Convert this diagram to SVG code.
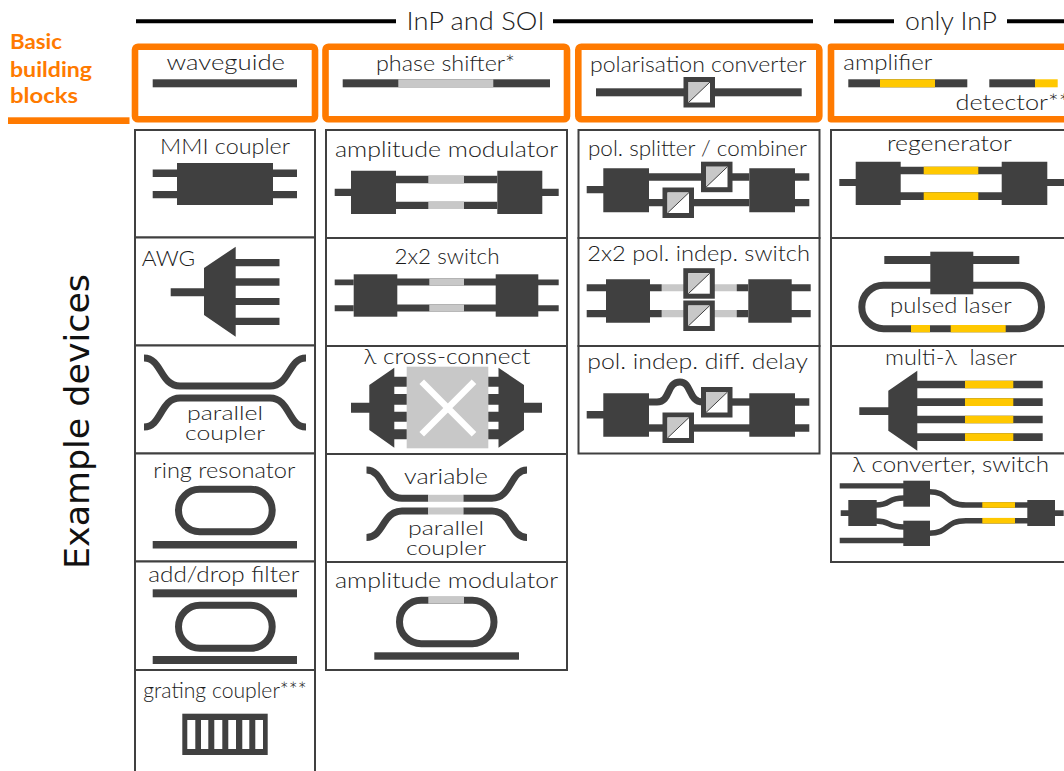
<svg xmlns="http://www.w3.org/2000/svg" width="1064" height="771" viewBox="0 0 1064 771">
<style>
text{font-family:"Lato","Liberation Sans",sans-serif;font-size:22px;font-weight:300;fill:#1c1c1c}
text.s{font-size:19px}
.d{fill:#404040}.g{fill:#c8c8c8}.y{fill:#ffc800}.wt{fill:#fff}
.w{fill:none;stroke:#404040;stroke-width:7}
.c{fill:#fff;stroke:#404040;stroke-width:2}
.o{fill:none;stroke:#ff7a00;stroke-width:6.6;stroke-linejoin:round}
.h{stroke:#000;stroke-width:4}
text.b{font-weight:700;fill:#ff7a00;font-size:20px}
</style>
<defs>
<g id="pc"><rect width="31.5" height="30.5" class="d"/><rect x="5" y="5" width="21.5" height="20.5" class="wt"/><path d="M5 5H26.5L5 25.5Z" class="g"/><path d="M5 25.5L26.5 5" stroke="#404040" stroke-width="1"/></g>
</defs>
<rect width="1064" height="771" fill="#fff"/>

<g id="headers">
<path class="h" d="M136 21.3H396M553 21.3H813M834 21.3H894M1007 21.3H1064"/>
<text x="406.5" y="30" textLength="138" lengthAdjust="spacingAndGlyphs" style="font-size:25px">InP and SOI</text>
<text x="905" y="30" textLength="92" lengthAdjust="spacingAndGlyphs" style="font-size:25px">only InP</text>
</g>

<g id="basic-label">
<text class="b" x="10" y="49" textLength="52" lengthAdjust="spacingAndGlyphs">Basic</text>
<text class="b" x="10" y="77" textLength="82" lengthAdjust="spacingAndGlyphs">building</text>
<text class="b" x="10" y="103" textLength="68" lengthAdjust="spacingAndGlyphs">blocks</text>
<rect x="8" y="117.3" width="121.5" height="6.7" fill="#ff7a00"/>
</g>

<g id="example-label">
<text transform="translate(89 569) rotate(-90)" textLength="295" lengthAdjust="spacingAndGlyphs" style="font-family:'DejaVu Sans',sans-serif;font-size:33px;font-weight:400;fill:#111">Example devices</text>
</g>

<g id="waveguide">
<rect class="o" x="135" y="46.7" width="180" height="72.6" rx="3"/>
<text x="166.5" y="70" textLength="118.5" lengthAdjust="spacingAndGlyphs">waveguide</text>
<rect class="d" x="152.7" y="79.3" width="144.3" height="8"/>
</g>
<g id="phase-shifter">
<rect class="o" x="325.5" y="46.7" width="241.5" height="72.6" rx="3"/>
<text x="376" y="71" textLength="139" lengthAdjust="spacingAndGlyphs">phase shifter*</text>
<rect class="d" x="342.7" y="79.3" width="207.3" height="8"/>
<rect class="g" x="398.3" y="79.3" width="95" height="8"/>
</g>
<g id="polarisation-converter">
<rect class="o" x="578.3" y="46.7" width="241" height="72.6" rx="3"/>
<text x="590" y="71.5" textLength="216.5" lengthAdjust="spacingAndGlyphs">polarisation converter</text>
<rect class="d" x="596" y="88.3" width="205.7" height="8"/>
<use href="#pc" x="683.5" y="77"/>
</g>
<g id="amplifier-detector">
<path class="o" d="M1064 46.7H831V119.3H1064"/>
<text x="843.3" y="70" textLength="89" lengthAdjust="spacingAndGlyphs">amplifier</text>
<rect class="d" x="848.3" y="79.3" width="119" height="8"/>
<rect class="y" x="880" y="79.3" width="55" height="8"/>
<rect class="d" x="989.3" y="79.3" width="46" height="8"/>
<rect class="y" x="1035" y="79.3" width="22.7" height="8"/>
<text x="955.5" y="110" textLength="114" lengthAdjust="spacingAndGlyphs">detector**</text>
</g>

<g id="mmi-coupler">
<rect class="c" x="135" y="130" width="180" height="107.5"/>
<text x="160" y="153.5" textLength="130" lengthAdjust="spacingAndGlyphs">MMI coupler</text>
<path class="d" d="M177 163H273V169.5H297V177H273V191H297V198.3H273V205H177V198.3H152.7V191H177V177H152.7V169.5H177Z"/>
</g>
<g id="awg">
<rect class="c" x="135" y="237.5" width="180" height="108"/>
<text x="141.7" y="266" textLength="53.5" lengthAdjust="spacingAndGlyphs">AWG</text>
<path class="d" d="M235.7 246.7L204 268V288.3H170.7V296.3H204V315L235.7 336.7Z"/>
<path class="d" d="M235 259H279.5V266.3H235ZM235 278.3H279.5V285.7H235ZM235 298H279.5V305H235ZM235 317.7H279.5V325H235Z"/>
</g>
<g id="parallel-coupler">
<rect class="c" x="135" y="345.5" width="180" height="108"/>
<path class="w" d="M144 358C162 358 160 386 180 386H270C290 386 288 358 306 358"/>
<path class="w" d="M144 427C162 427 160 398 180 398H270C290 398 288 427 306 427"/>
<text class="s"><tspan x="187" y="419.5" textLength="76" lengthAdjust="spacingAndGlyphs">parallel</tspan><tspan x="185" y="440" textLength="80" lengthAdjust="spacingAndGlyphs">coupler</tspan></text>
</g>
<g id="ring-resonator">
<rect class="c" x="135" y="453.5" width="180" height="108"/>
<text x="153.3" y="477.7" textLength="142" lengthAdjust="spacingAndGlyphs">ring resonator</text>
<rect class="w" x="178.5" y="489.2" width="93.7" height="42.5" rx="21.2"/>
<rect class="d" x="152.7" y="541" width="144.3" height="7.5"/>
</g>
<g id="add-drop-filter">
<rect class="c" x="135" y="561.5" width="180" height="108.5"/>
<text x="148.3" y="582.3" textLength="151" lengthAdjust="spacingAndGlyphs">add/drop filter</text>
<rect class="d" x="152.7" y="589.3" width="144.3" height="8"/>
<rect class="w" x="178.5" y="605.2" width="93.7" height="43" rx="21.5"/>
<rect class="d" x="152.7" y="656" width="144.3" height="8"/>
</g>
<g id="grating-coupler">
<rect class="c" x="135" y="670" width="180" height="110"/>
<text x="143.3" y="698.3" textLength="163.5" lengthAdjust="spacingAndGlyphs">grating coupler***</text>
<rect class="d" x="182.3" y="713.7" width="85.4" height="41.3"/>
<path class="wt" d="M187.3 720H195.3V749H187.3ZM201 720H208.3V749H201ZM214.3 720H222.3V749H214.3ZM228.3 720H236V749H228.3ZM242.3 720H249.3V749H242.3ZM255.3 720H263V749H255.3Z"/>
</g>

<g id="amplitude-modulator">
<rect class="c" x="326" y="130" width="241" height="108"/>
<text x="335" y="157" textLength="223" lengthAdjust="spacingAndGlyphs">amplitude modulator</text>
<path class="d" d="M351 170.7H396V214H351V196H334.7V188.7H351ZM497.3 170.7H542.3V188.7H558.7V196H542.3V214H497.3Z"/>
<path class="d" d="M396 175.8H497.3V183.3H396ZM396 201.7H497.3V209H396Z"/>
<rect class="g" x="428.3" y="175.8" width="35.7" height="7.5"/><rect class="g" x="428.3" y="201.7" width="35.7" height="7.3"/>
</g>
<g id="switch-2x2">
<rect class="c" x="326" y="238" width="241" height="108"/>
<text x="394.5" y="264" textLength="105" lengthAdjust="spacingAndGlyphs">2x2 switch</text>
<rect class="d" x="353.7" y="274.3" width="43.6" height="42.4"/><rect class="d" x="495.7" y="274.3" width="42.6" height="42.4"/>
<path class="d" d="M334.7 279.5H353.7V285.2H334.7ZM334.7 305.3H353.7V311.2H334.7ZM538 279.5H558.7V285.2H538ZM538 305.3H558.7V311.2H538Z"/>
<path class="d" d="M397 278.5H496V285.6H397ZM397 304.5H496V311.6H397Z"/>
<rect class="g" x="429.3" y="278.5" width="34.7" height="7.1"/><rect class="g" x="429.3" y="304.5" width="34.7" height="7.1"/>
</g>
<g id="cross-connect">
<rect class="c" x="326" y="346" width="241" height="108"/>
<text x="363.5" y="364" textLength="167" lengthAdjust="spacingAndGlyphs">λ cross-connect</text>
<rect class="g" x="406.7" y="366.7" width="81.6" height="81.6"/>
<path d="M421.7 381.7L474 434.3M474 381.7L421.7 434.3" stroke="#fff" stroke-width="6.5"/>
<path class="d" d="M394.3 367.7L369.3 385V402.7H351V412.7H369.3V430L394.3 447.7Z"/>
<path class="d" d="M394 376.7H406.7V386.7H394ZM394 394H406.7V404.7H394ZM394 411.7H406.7V421.7H394ZM394 429.3H406.7V439.3H394Z"/>
<path class="d" d="M498.5 367.7L524 385V402.7H542V412.7H524V430L498.5 447.7Z"/>
<path class="d" d="M488.3 376.7H499V386.7H488.3ZM488.3 394H499V404.7H488.3ZM488.3 411.7H499V421.7H488.3ZM488.3 429.3H499V439.3H488.3Z"/>
</g>
<g id="variable-coupler">
<rect class="c" x="326" y="454" width="241" height="108"/>
<path class="w" d="M366.5 470C384 470 382 498.3 402 498.3H428.3M463.3 498.3H492C512 498.3 510 470 527 470"/>
<path class="w" d="M366.5 537.5C384 537.5 382 511 402 511H428.3M463.3 511H492C512 511 510 537.5 527 537.5"/>
<rect class="g" x="428.3" y="494.8" width="35" height="7"/><rect class="g" x="428.3" y="507.5" width="35" height="7"/>
<text x="404" y="484" textLength="84" lengthAdjust="spacingAndGlyphs">variable</text>
<text class="s"><tspan x="408" y="534.5" textLength="76" lengthAdjust="spacingAndGlyphs">parallel</tspan><tspan x="406" y="555" textLength="80" lengthAdjust="spacingAndGlyphs">coupler</tspan></text>
</g>
<g id="ring-modulator">
<rect class="c" x="326" y="562" width="241" height="108"/>
<text x="335" y="587.7" textLength="223" lengthAdjust="spacingAndGlyphs">amplitude modulator</text>
<rect class="w" x="399.5" y="600.2" width="94.5" height="43.5" rx="21.7"/>
<rect class="g" x="428.3" y="596.7" width="35.7" height="7"/>
<rect class="d" x="374.3" y="652.3" width="144.7" height="7.4"/>
</g>

<g id="pol-splitter">
<rect class="c" x="578.5" y="130" width="241" height="108"/>
<text x="588" y="156" textLength="219" lengthAdjust="spacingAndGlyphs">pol. splitter / combiner</text>
<path class="d" d="M603.3 168.3H649V212.3H603.3V193.3H586.7V186H603.3ZM749.3 168.3H795V173.3H809.3V180.7H795V199H809.3V206.3H795V212.3H749.3Z"/>
<path class="d" d="M649 173.3H749.3V180.7H649ZM649 199H749.3V206.3H649Z"/>
<use href="#pc" x="701" y="161.7"/><use href="#pc" x="662.5" y="187.5"/>
</g>
<g id="pol-switch">
<rect class="c" x="578.5" y="238" width="241" height="108"/>
<text x="587.3" y="261" textLength="222.7" lengthAdjust="spacingAndGlyphs">2x2 pol. indep. switch</text>
<path class="d" d="M606 279.3H650V322.7H606V317.3H586.7V310H606V291.3H586.7V284.3H606ZM748.3 279.3H791.7V284.3H810.7V291.3H791.7V310H810.7V317.3H791.7V322.7H748.3Z"/>
<path class="g" d="M661.7 284.3H736.7V291.3H661.7ZM661.7 310H736.7V317.3H661.7Z"/>
<path class="d" d="M650 284.3H661.7V291.3H650ZM650 310H661.7V317.3H650ZM736.7 284.3H748.3V291.3H736.7ZM736.7 310H748.3V317.3H736.7Z"/>
<use href="#pc" x="683.3" y="268.2"/><use href="#pc" x="683.3" y="300.5"/>
</g>
<g id="pol-delay">
<rect class="c" x="578.5" y="346" width="241" height="107.5"/>
<text x="587.3" y="369.3" textLength="220.7" lengthAdjust="spacingAndGlyphs">pol. indep. diff. delay</text>
<path class="d" d="M603.3 393.3H649V436.7H603.3V418.5H586.7V411H603.3ZM749.3 393.3H795V398.3H809.3V405.7H795V424.3H809.3V431.7H795V436.7H749.3Z"/>
<path class="w" d="M649 402H657C671 402 666 382 680 382C692 382 688 402 703 402"/>
<rect class="d" x="732" y="398.3" width="18" height="7.4"/>
<rect class="d" x="649" y="424.3" width="101" height="7.4"/>
<use href="#pc" x="701" y="387"/><use href="#pc" x="662.5" y="412.5"/>
</g>

<g id="regenerator">
<rect class="c" x="831" y="130" width="240" height="108"/>
<text x="887" y="150.7" textLength="124.7" lengthAdjust="spacingAndGlyphs">regenerator</text>
<path class="d" d="M855.7 161.7H900.7V205H855.7V186H839.3V179H855.7ZM1001.7 161.7H1047.3V179H1064V186H1047.3V205H1001.7Z"/>
<path class="d" d="M900 166.7H1002V174.3H900ZM900 192.3H1002V200H900Z"/>
<rect class="y" x="923.7" y="166.7" width="54.6" height="7.6"/><rect class="y" x="923.7" y="192.3" width="54.6" height="7.7"/>
</g>
<g id="pulsed-laser">
<rect class="c" x="831" y="238" width="240" height="108"/>
<rect class="w" x="861.8" y="285.2" width="179.7" height="43.5" rx="21.7"/>
<rect class="d" x="884.3" y="256" width="135" height="8"/>
<rect class="d" x="930.3" y="251.7" width="43" height="42.6"/>
<rect class="y" x="911" y="325" width="19" height="7.3"/><rect class="y" x="950.7" y="325" width="55" height="7.3"/>
<text x="890" y="312.7" textLength="121.7" lengthAdjust="spacingAndGlyphs">pulsed laser</text>
</g>
<g id="multi-laser">
<rect class="c" x="831" y="346" width="240" height="107.5"/>
<text x="885" y="365" textLength="131.7" lengthAdjust="spacingAndGlyphs" xml:space="preserve">multi-λ  laser</text>
<path class="d" d="M917.3 370.7L888.3 390.7V407.3H859.3V415H888.3V430.7L917.3 450.7Z"/>
<path class="d" d="M917 380.7H1042.7V388.3H917ZM917 398.3H1042.7V406H917ZM917 415.7H1042.7V423.3H917ZM917 433.3H1042.7V441H917Z"/>
<path class="y" d="M965 380.7H1013.3V388.3H965ZM965 398.3H1013.3V406H965ZM965 415.7H1013.3V423.3H965ZM965 433.3H1013.3V441H965Z"/>
</g>
<g id="converter-switch">
<rect class="c" x="831" y="453.5" width="240" height="108.5"/>
<text x="852.3" y="471.7" textLength="196.7" lengthAdjust="spacingAndGlyphs">λ converter, switch</text>
<path class="d" d="M839.7 483.3H904V488.5H839.7ZM839.7 537.7H904V543.3H839.7ZM840.7 510.3H849V516H840.7ZM1054 510.3H1063.7V516H1054Z"/>
<path fill="none" stroke="#404040" stroke-width="5.5" d="M876 505C892 505 886 498 904 498M876 521C892 521 886 527 904 527M929 491.7C950 491.7 944 505 966 505H1028M929 533.3C950 533.3 944 520.7 966 520.7H1028"/>
<rect class="d" x="903.3" y="480.7" width="26.7" height="26"/>
<rect class="d" x="848.3" y="500" width="28.4" height="26"/>
<rect class="d" x="903.3" y="520.7" width="26.7" height="25.3"/>
<rect class="d" x="1027.3" y="500" width="27.7" height="26"/>
<rect class="y" x="982.3" y="502.2" width="32.7" height="5.6"/><rect class="y" x="982.3" y="517.9" width="32.7" height="5.6"/>
</g>
</svg>
